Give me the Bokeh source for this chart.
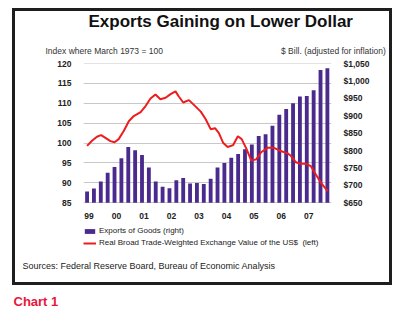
from bokeh.plotting import figure
from bokeh.models import (Range1d, LinearAxis, FixedTicker, NumeralTickFormatter,
                          Title, Legend, LegendItem, InlineStyleSheet)
from bokeh.core.properties import value
from bokeh.embed import file_html
from bokeh.resources import INLINE

FONT = "Liberation Sans"

# ---- data ----
year_labels = ["99", "00", "01", "02", "03", "04", "05", "06", "07"]
label_years = [1999, 2000, 2001, 2002, 2003, 2004, 2005, 2006, 2007]

# Exports of goods, quarterly 1999Q1 .. 2007Q4, $ billions (right axis)
exports = [682, 691, 711, 736, 753, 778, 810, 801,
           787, 751, 711, 696, 692, 715, 721, 705,
           707, 704, 719, 751, 764, 779, 790, 804,
           817, 842, 847, 871, 903, 919, 936, 955,
           957, 973, 1031, 1036]
bar_x = [1999 + i / 4 for i in range(len(exports))]

# Real broad trade-weighted exchange value of the US$ (left axis, index)
dollar_t = [1999.00, 1999.18, 1999.36, 1999.51, 1999.67, 1999.85, 2000.00, 2000.15,
            2000.34, 2000.52, 2000.70, 2000.95, 2001.13, 2001.31, 2001.49, 2001.67,
            2001.86, 2002.04, 2002.22, 2002.34, 2002.50, 2002.71, 2002.89, 2003.14,
            2003.32, 2003.50, 2003.66, 2003.80, 2003.96, 2004.12, 2004.32, 2004.49,
            2004.63, 2004.80, 2004.98, 2005.16, 2005.34, 2005.57, 2005.81, 2006.05,
            2006.30, 2006.42, 2006.60, 2006.78, 2006.97, 2007.15, 2007.33, 2007.52,
            2007.76]
dollar_v = [99.3, 100.6, 101.6, 102.0, 101.3, 100.5, 100.2, 101.0,
            103.1, 105.5, 106.8, 107.8, 109.3, 111.2, 112.2, 111.0,
            111.4, 112.3, 113.0, 111.7, 110.2, 110.8, 109.6, 107.9,
            106.0, 103.5, 103.75, 102.5, 100.0, 99.0, 99.5, 101.7,
            101.0, 98.6, 95.6, 95.9, 97.7, 98.8, 98.8, 98.0,
            97.4, 96.8, 95.2, 94.8, 94.8, 94.2, 92.1, 90.0,
            87.9]

left_ticks = [85, 90, 95, 100, 105, 110, 115, 120]
right_ticks = [650, 700, 750, 800, 850, 900, 950, 1000, 1050]

title_text = "Exports Gaining on Lower Dollar"
left_unit_text = "Index where March 1973 = 100"
right_unit_text = "$ Bill. (adjusted for inflation)"
source_text = "Sources: Federal Reserve Board, Bureau of Economic Analysis"
chart_label = "Chart 1"
series_names = ["Exports of Goods (right)",
                "Real Broad Trade-Weighted Exchange Value of the US$  (left)"]

# ---- figure ----
border_css = InlineStyleSheet(css="""
:host { position: relative; background: white; }
:host::after {
  content: ""; position: absolute; left: 12px; top: 8px;
  width: 374px; height: 271px; border: 3px solid #1e1e1e;
  pointer-events: none; box-sizing: content-box;
}
""")

# the plotting frame also holds the year labels and the legend below the bars
p = figure(width=400, height=323, output_backend="svg", toolbar_location=None,
           x_range=Range1d(1998.87, 2007.9), y_range=Range1d(72.5, 120),
           x_axis_location=None,
           min_border_left=83, min_border_right=69, min_border_top=63,
           min_border_bottom=70, stylesheets=[border_css])
p.outline_line_color = None
p.background_fill_color = None
p.border_fill_color = None
p.extra_y_ranges = {"right": Range1d(507.14, 1050)}

# horizontal grid lines at the left-axis ticks
p.hspan(y=left_ticks, line_color="#c8c8c8", line_width=1)

bars = p.vbar(x=bar_x, top=exports, bottom=right_ticks[0], width=0.14,
              y_range_name="right", fill_color="#4b2a8e", line_color=None)
line = p.line(dollar_t, dollar_v, line_color="#ee1c1c", line_width=2)

# year labels under the bars
p.text(x=label_years, y=[81.6] * len(label_years), text=year_labels,
       text_font=value(FONT), text_font_size="8.5px", text_font_style="bold",
       text_align="center", text_baseline="middle", text_color="#222222",
       x_offset=2)

# axes
def style_axis(ax):
    ax.axis_line_color = None
    ax.major_tick_line_color = None
    ax.minor_tick_line_color = None
    ax.major_label_text_font = FONT
    ax.major_label_text_font_style = "bold"
    ax.major_label_text_font_size = "8.5px"
    ax.major_label_text_color = "#222222"

p.yaxis.ticker = FixedTicker(ticks=left_ticks)
style_axis(p.yaxis[0])
p.yaxis.major_label_standoff = 6

ra = LinearAxis(y_range_name="right", ticker=FixedTicker(ticks=right_ticks),
                formatter=NumeralTickFormatter(format="$0,0"))
style_axis(ra)
ra.major_label_standoff = 6
p.add_layout(ra, "right")

p.xgrid.visible = False
p.ygrid.visible = False

# titles above (first added sits nearest the plot)
NB = "\u00a0"
p.add_layout(Title(text=left_unit_text + NB * 50 + right_unit_text, align="left",
                   offset=-38, text_font=FONT, text_font_size="8.5px",
                   text_font_style="normal", text_color="#333333", standoff=15), "above")
p.add_layout(Title(text=title_text, align="left", offset=5, text_font=FONT,
                   text_font_size="17px", text_font_style="bold",
                   text_color="#111111", standoff=11), "above")

# legend inside the frame, below the year labels
legend = Legend(items=[LegendItem(label=series_names[0], renderers=[bars]),
                       LegendItem(label=series_names[1], renderers=[line])],
                location=(0, 5), margin=0, padding=0, spacing=3, glyph_width=13,
                glyph_height=6, label_height=6, label_standoff=3,
                border_line_color=None, background_fill_alpha=0,
                label_text_font=FONT, label_text_font_size="8px",
                label_text_color="#222222")
p.add_layout(legend, "center")

# notes below
p.add_layout(Title(text=source_text, align="left", offset=-61, text_font=FONT,
                   text_font_size="9px", text_font_style="normal",
                   text_color="#222222", standoff=13), "below")
p.add_layout(Title(text=chart_label, align="left", offset=-70, text_font=FONT,
                   text_font_size="13px", text_font_style="bold",
                   text_color="#e8173a", standoff=29), "below")

open("out.html", "w").write(file_html(p, INLINE))
